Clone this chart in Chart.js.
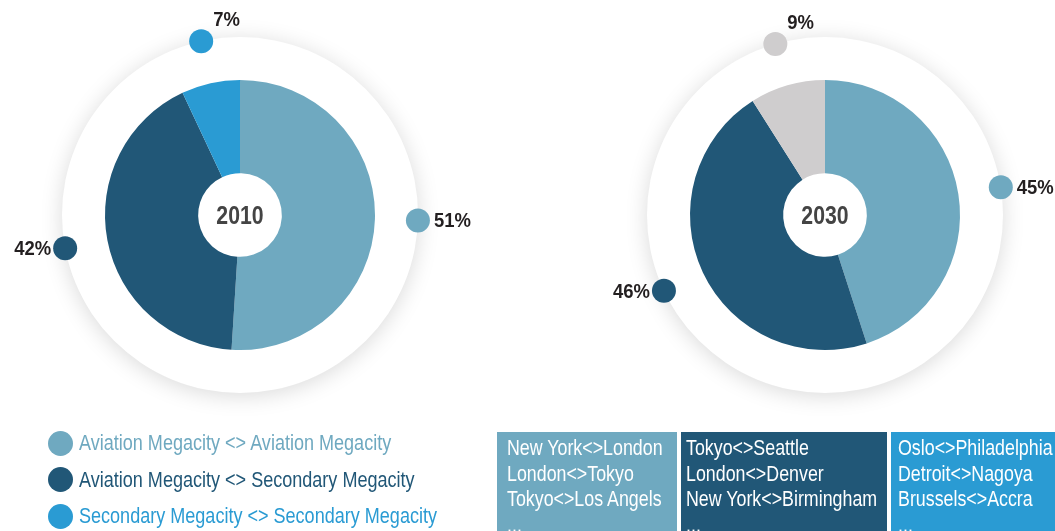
<!DOCTYPE html>
<html>
<head>
<meta charset="utf-8">
<script src="https://cdn.jsdelivr.net/npm/chart.js@4"></script>
<style>
    body { margin: 0; background: #fff; font-family: "Liberation Sans", Arial, sans-serif; }
    #page { position: relative; width: 1055px; height: 531px; overflow: hidden; }
    .chartBox { position: absolute; top: 0; }
    #legend { position: absolute; left: 48px; top: 425px; }
    .legendItem { height: 36.5px; display: flex; align-items: center; font-size: 22px; white-space: nowrap; }
    .legendDot { width: 25px; height: 25px; border-radius: 50%; margin-right: 6px; flex: none; }
    .narrow { display: inline-block; transform-origin: 0 50%; white-space: nowrap; }
    .route { position: absolute; top: 432px; height: 99px; overflow: hidden; color: #fff;
             font-size: 22px; line-height: 25.5px; padding-top: 3px; box-sizing: border-box; }
</style>
</head>
<body>
<div id="page">
    <div class="chartBox" style="left:0;width:480px;height:431px"><canvas id="chart2010"></canvas></div>
    <div class="chartBox" style="left:590px;width:465px;height:431px"><canvas id="chart2030"></canvas></div>
    <div id="legend"></div>
    <div id="routes"></div>
</div>
<script>
// Data
const categories = ['Aviation Megacity <> Aviation Megacity', 'Aviation Megacity <> Secondary Megacity', 'Secondary Megacity <> Secondary Megacity'];
const values2010 = [51, 42, 7];
const values2030 = [45, 46, 9];
const colors2010 = ['#6fa9c0', '#215777', '#2a9bd3'];
const colors2030 = ['#6fa9c0', '#215777', '#cfcdce'];
const routesAA = ['New York<>London', 'London<>Tokyo', 'Tokyo<>Los Angels', '...'];
const routesAS = ['Tokyo<>Seattle', 'London<>Denver', 'New York<>Birmingham', '...'];
const routesSS = ['Oslo<>Philadelphia', 'Detroit<>Nagoya', 'Brussels<>Accra', '...'];

const FONT = '"Liberation Sans", Arial, sans-serif';

// condensed look: no narrow font installed, so squeeze horizontally
function narrowText(ctx, txt, x, y, align, sx) {
    ctx.save();
    ctx.translate(x, y);
    ctx.scale(sx, 1);
    ctx.textAlign = align;
    ctx.textBaseline = 'middle';
    ctx.fillText(txt, 0, 0);
    ctx.restore();
}

// White ring with shadow behind the pie, dots + labels, year in the middle
const ringPlugin = {
    id: 'ring',
    beforeDatasetsDraw(chart, args, opts) {
        const arc = chart.getDatasetMeta(0).data[0];
        const ctx = chart.ctx;
        ctx.save();
        ctx.beginPath();
        ctx.arc(arc.x, arc.y, arc.outerRadius + 43, 0, Math.PI * 2);
        ctx.shadowColor = 'rgba(0,0,0,0.15)';
        ctx.shadowBlur = 22;
        ctx.shadowOffsetY = 3;
        ctx.fillStyle = '#fff';
        ctx.fill();
        ctx.restore();
    },
    afterDatasetsDraw(chart, args, opts) {
        const ctx = chart.ctx;
        const meta = chart.getDatasetMeta(0);
        const ds = chart.data.datasets[0];
        const first = meta.data[0];
        const cx = first.x, cy = first.y;
        const ringR = first.outerRadius + 43;
        ctx.save();
        meta.data.forEach((arc, i) => {
            const mid = (arc.startAngle + arc.endAngle) / 2;
            const x = cx + Math.cos(mid) * ringR;
            const y = cy + Math.sin(mid) * ringR;
            ctx.beginPath();
            ctx.arc(x, y, 12, 0, Math.PI * 2);
            ctx.fillStyle = ds.backgroundColor[i];
            ctx.fill();

            ctx.fillStyle = '#231f20';
            ctx.font = 'bold 21px ' + FONT;
            const txt = ds.data[i] + '%';
            if (y < cy - ringR * 0.8) {
                narrowText(ctx, txt, x + 12, y - 21, 'left', 0.88);
            } else if (x > cx) {
                narrowText(ctx, txt, x + 16, y + 1, 'left', 0.88);
            } else {
                narrowText(ctx, txt, x - 14, y + 1, 'right', 0.88);
            }
        });
        ctx.fillStyle = '#444';
        ctx.font = 'bold 25px ' + FONT;
        narrowText(ctx, opts.year, cx, cy + 2, 'center', 0.85);
        ctx.restore();
    }
};

function makeChart(id, year, values, colors, padding) {
    new Chart(document.getElementById(id), {
        type: 'doughnut',
        data: {
            labels: categories,
            datasets: [{
                data: values,
                backgroundColor: colors,
                borderWidth: 0,
                hoverOffset: 0
            }]
        },
        options: {
            responsive: true,
            maintainAspectRatio: false,
            animation: false,
            cutout: '31%',
            layout: { padding: padding },
            plugins: {
                legend: { display: false },
                tooltip: { enabled: false },
                ring: { year: year }
            }
        },
        plugins: [ringPlugin]
    });
}

makeChart('chart2010', '2010', values2010, colors2010, { left: 105, right: 105, top: 80, bottom: 81 });
makeChart('chart2030', '2030', values2030, colors2030, { left: 100, right: 95, top: 80, bottom: 81 });

const esc = s => s.replace(/</g, '&lt;').replace(/>/g, '&gt;');

// Legend
const legend = document.getElementById('legend');
categories.forEach((name, i) => {
    const item = document.createElement('div');
    item.className = 'legendItem';
    item.style.color = colors2010[i];
    item.innerHTML = `<span class="legendDot" style="background:${colors2010[i]}"></span>` +
        `<span class="narrow" style="transform:scaleX(0.82)">${esc(name)}</span>`;
    legend.appendChild(item);
});

// Route boxes
const routes = document.getElementById('routes');
const boxes = [
    { list: routesAA, left: 497, width: 180, pad: 10 },
    { list: routesAS, left: 681, width: 206, pad: 5 },
    { list: routesSS, left: 891, width: 170, pad: 7 }
];
boxes.forEach((b, i) => {
    const div = document.createElement('div');
    div.className = 'route';
    div.style.left = b.left + 'px';
    div.style.width = b.width + 'px';
    div.style.paddingLeft = b.pad + 'px';
    div.style.background = colors2010[i];
    div.innerHTML = `<span class="narrow" style="transform:scaleX(0.81);transform-origin:0 0">${b.list.map(esc).join('<br>')}</span>`;
    routes.appendChild(div);
});
</script>
</body>
</html>
